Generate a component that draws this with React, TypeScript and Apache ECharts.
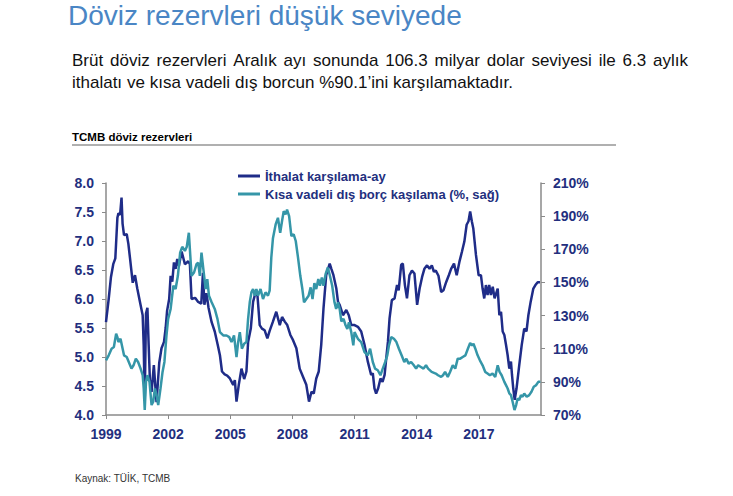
import React, { useEffect, useRef } from "react";
import * as echarts from "echarts";

const titleText = "Döviz rezervleri düşük seviyede";
const subtitleLine1 = "Brüt döviz rezervleri Aralık ayı sonunda 106.3 milyar dolar seviyesi ile 6.3 aylık";
const subtitleLine2 = "ithalatı ve kısa vadeli dış borcun %90.1’ini karşılamaktadır.";
const chartTitle = "TCMB döviz rezervleri";
const sourceText = "Kaynak: TÜİK, TCMB";
const seriesNames = ["İthalat karşılama-ay", "Kısa vadeli dış borç kaşılama (%, sağ)"];

const xTickYears = [1999, 2002, 2005, 2008, 2011, 2014, 2017];
const rightTicks = [70, 90, 110, 130, 150, 170, 190, 210];

// İthalat karşılama (ay) — left axis
const importDates = [
  1999.0, 1999.13, 1999.24, 1999.35, 1999.45, 1999.55, 1999.6, 1999.68, 1999.75, 1999.8, 1999.87,
  2000.0, 2000.08, 2000.16, 2000.29, 2000.4, 2000.51, 2000.64, 2000.77, 2000.82, 2000.87, 2000.93,
  2001.0, 2001.06, 2001.12, 2001.2, 2001.31, 2001.38, 2001.44, 2001.57, 2001.68, 2001.8, 2001.88, 2001.95,
  2002.05, 2002.12, 2002.2, 2002.28, 2002.36, 2002.44, 2002.52, 2002.65, 2002.81, 2002.97,
  2003.05, 2003.13, 2003.3, 2003.45, 2003.6, 2003.68, 2003.75, 2003.85, 2003.95,
  2004.1, 2004.25, 2004.4, 2004.5, 2004.6, 2004.73, 2004.85, 2004.98,
  2005.14, 2005.22, 2005.3, 2005.41, 2005.54, 2005.67, 2005.78, 2005.86, 2005.99,
  2006.1, 2006.21, 2006.31, 2006.42, 2006.53, 2006.66, 2006.79, 2006.9,
  2007.05, 2007.22, 2007.3, 2007.39, 2007.5, 2007.63, 2007.75, 2007.9,
  2008.03, 2008.19, 2008.35, 2008.51, 2008.67, 2008.8, 2008.92,
  2009.03, 2009.15, 2009.27, 2009.39, 2009.5, 2009.63, 2009.8, 2009.88, 2009.98,
  2010.12, 2010.2, 2010.28, 2010.44, 2010.6, 2010.72, 2010.84,
  2011.0, 2011.16, 2011.32, 2011.48, 2011.64, 2011.8, 2011.88, 2011.96,
  2012.04, 2012.14, 2012.25, 2012.35, 2012.45, 2012.53, 2012.61, 2012.69, 2012.8, 2012.93,
  2013.05, 2013.13, 2013.25, 2013.33, 2013.43, 2013.53, 2013.65, 2013.77, 2013.89,
  2014.02, 2014.14, 2014.26, 2014.37, 2014.5, 2014.62, 2014.73, 2014.83, 2014.92,
  2015.05, 2015.18, 2015.29, 2015.42, 2015.55, 2015.66, 2015.8, 2015.93,
  2016.06, 2016.18, 2016.3, 2016.41, 2016.5, 2016.58, 2016.66, 2016.73, 2016.86, 2016.99,
  2017.1, 2017.18, 2017.26, 2017.34, 2017.42, 2017.5, 2017.58, 2017.67, 2017.76, 2017.91, 2017.99,
  2018.07, 2018.15, 2018.23, 2018.31, 2018.39, 2018.47, 2018.55, 2018.6, 2018.66, 2018.73, 2018.82, 2018.95,
  2019.07, 2019.19, 2019.3, 2019.39, 2019.5, 2019.63, 2019.73, 2019.84, 2019.95,
];
const importValues = [
  5.6, 6.0, 6.38, 6.6, 6.7, 7.4, 7.48, 7.45, 7.75, 7.3, 7.1,
  7.12, 6.95, 6.7, 6.28, 6.41, 6.18, 5.95, 5.72, 5.2, 4.25, 5.75,
  5.85, 5.2, 4.6, 4.4, 4.86, 4.5, 4.22, 4.9, 5.15, 5.26, 5.5, 5.8,
  6.0, 6.4, 6.3, 6.63, 6.52, 6.69, 6.57, 6.82, 6.6, 6.65,
  6.6, 6.0, 6.02, 5.95, 5.92, 6.45, 5.9, 6.1, 5.85,
  5.6, 5.44, 5.2, 5.03, 4.75, 4.7, 4.68, 4.63,
  4.52, 4.6, 4.23, 4.52, 4.8, 4.62, 4.75, 5.26, 5.49,
  5.95, 6.1, 6.07, 5.55, 5.49, 5.46, 5.32, 5.45,
  5.6, 5.78, 5.67, 5.55, 5.69, 5.61, 5.55, 5.38,
  5.29, 5.15, 4.8, 4.66, 4.52, 4.23, 4.4,
  4.37, 4.63, 4.75, 5.21, 5.84, 6.41, 6.61, 6.52, 6.41,
  6.18, 5.95, 5.9, 5.72, 5.81, 5.72, 5.55,
  5.55, 5.52, 5.44, 5.21, 4.92, 4.69, 4.72, 4.46,
  4.37, 4.46, 4.63, 4.57, 4.69, 4.98, 5.26, 5.67, 5.98, 6.01,
  6.24, 6.15, 6.59, 6.61, 6.24, 6.01, 6.41, 6.49, 6.44,
  5.9, 6.18, 6.38, 6.52, 6.58, 6.52, 6.58, 6.47, 6.49,
  6.4, 6.12, 6.15, 6.29, 6.41, 6.52, 6.61, 6.41,
  6.64, 6.81, 6.99, 7.28, 7.34, 7.51, 7.34, 7.22, 6.76, 6.41,
  6.41, 6.18, 6.01, 6.24, 6.07, 6.24, 6.07, 6.21, 6.01, 6.18, 5.72,
  5.78, 5.44, 5.38, 5.21, 5.03, 4.8, 4.92, 4.69, 4.46, 4.26, 4.46, 4.86,
  5.21, 5.49, 5.44, 5.72, 5.95, 6.18, 6.24, 6.29, 6.29,
];

// Kısa vadeli dış borç karşılama (%) — right axis
const debtDates = [
  1999.0, 1999.13, 1999.27, 1999.38, 1999.49, 1999.55, 1999.6, 1999.7, 1999.87,
  2000.0, 2000.1, 2000.23, 2000.33, 2000.44, 2000.55, 2000.67, 2000.77, 2000.82, 2000.87, 2000.93,
  2001.0, 2001.1, 2001.2, 2001.28, 2001.36, 2001.44, 2001.52, 2001.63, 2001.73, 2001.82, 2001.92,
  2002.0, 2002.12, 2002.25, 2002.36, 2002.47, 2002.58, 2002.68, 2002.81, 2002.9,
  2003.0, 2003.05, 2003.13, 2003.25, 2003.37, 2003.45, 2003.53, 2003.61, 2003.7, 2003.81, 2003.89, 2003.97,
  2004.1, 2004.25, 2004.38, 2004.5, 2004.66, 2004.82, 2004.95,
  2005.06, 2005.18, 2005.3, 2005.38, 2005.46, 2005.56, 2005.67, 2005.78, 2005.86, 2005.94,
  2006.02, 2006.1, 2006.18, 2006.26, 2006.34, 2006.46, 2006.58, 2006.7, 2006.82, 2006.9, 2006.98,
  2007.06, 2007.19, 2007.3, 2007.41, 2007.51, 2007.58, 2007.67, 2007.74, 2007.84, 2007.95,
  2008.06, 2008.16, 2008.27, 2008.38, 2008.48, 2008.56, 2008.67, 2008.78, 2008.88, 2008.97,
  2009.06, 2009.15, 2009.25, 2009.33, 2009.42, 2009.5, 2009.6, 2009.71, 2009.81, 2009.92,
  2010.03, 2010.11, 2010.2, 2010.28, 2010.36, 2010.47, 2010.57, 2010.65, 2010.73, 2010.84, 2010.94,
  2011.0, 2011.16, 2011.32, 2011.48, 2011.64, 2011.75, 2011.88, 2011.99,
  2012.12, 2012.25, 2012.36, 2012.48, 2012.58, 2012.66, 2012.77, 2012.9,
  2013.02, 2013.14, 2013.27, 2013.4, 2013.5, 2013.61, 2013.73, 2013.86, 2013.97,
  2014.07, 2014.2, 2014.33, 2014.45, 2014.55, 2014.72, 2014.92,
  2015.03, 2015.18, 2015.27, 2015.37, 2015.5, 2015.61, 2015.74, 2015.86, 2015.98,
  2016.1, 2016.22, 2016.35, 2016.47, 2016.58, 2016.67, 2016.74, 2016.83, 2016.94,
  2017.05, 2017.18, 2017.31, 2017.42, 2017.53, 2017.66, 2017.79, 2017.91,
  2018.0, 2018.1, 2018.23, 2018.31, 2018.39, 2018.47, 2018.55, 2018.63, 2018.72, 2018.8, 2018.87, 2018.95,
  2019.03, 2019.11, 2019.19, 2019.31, 2019.43, 2019.54, 2019.65, 2019.76, 2019.87, 2019.97,
];
const debtValues = [
  103, 106, 110, 111, 119, 117, 114, 116, 106,
  105, 102, 98, 100, 104, 102, 98, 94, 86, 73, 90,
  94, 90, 76, 78, 86, 82, 76, 86, 96, 102, 118,
  128, 134, 148, 146, 154, 168, 171.5, 169, 171.5,
  180, 170, 154, 156, 161, 162, 154, 168, 158, 146, 152, 142,
  138, 134, 128, 120, 118, 118, 117,
  114, 118, 105, 114, 120, 110, 113, 114, 128, 138,
  144, 146, 142, 146, 142, 146, 140, 144, 142, 145, 165,
  176.7, 185, 189, 180, 188, 193, 191, 194, 190, 178,
  179, 175, 165, 154, 146, 138, 140, 142, 147, 140,
  149.5, 146, 152, 148, 153, 148, 155, 159, 154, 148,
  138, 134, 138, 134, 126.5, 128, 124, 122, 126, 120, 112,
  120, 116, 114, 108, 106, 110, 102, 98,
  97, 94, 98, 102, 106, 112, 117, 116,
  114, 110, 106, 102, 104, 101, 102, 100, 98,
  100, 99, 98, 100, 98, 96, 95,
  94, 93, 94, 96, 93, 96, 100, 98, 104,
  104, 105, 106, 110, 113.5, 112, 113, 110, 106,
  103, 100, 96, 95, 94, 95, 93, 100,
  96, 94, 90, 88, 86, 83, 82, 78, 73, 76, 80, 79,
  82, 81, 83, 81, 82, 84, 87, 88, 90, 90.1,
];

const NAVY = "#1f2c88";
const TEAL = "#3596a8";
const LABEL = "#232f7e";
const FONT = "'Liberation Sans', Arial, sans-serif";

function measureWords(words: string[], font: string): number[] {
  const canvas = document.createElement("canvas");
  const ctx = canvas.getContext("2d");
  if (!ctx) return words.map((w) => w.length * 8);
  ctx.font = font;
  return words.map((w) => ctx.measureText(w).width);
}

// Place words of a line one text element each, with a given gap between them.
function placeWords(words: string[], widths: number[], left: number, top: number, gap: number, font: string, fill: string) {
  let x = left;
  return words.map((w, i) => {
    const el = { type: "text", left: x, top, style: { text: w, fill, font } };
    x += widths[i] + gap;
    return el;
  });
}

export default function App() {
  const ref = useRef<HTMLDivElement>(null);

  useEffect(() => {
    if (!ref.current) return;
    const chart = echarts.init(ref.current, undefined, { renderer: "svg" });

    const importData = importDates.map((d, i) => [d, importValues[i]]);
    const debtData = debtDates.map((d, i) => [d, debtValues[i]]);

    const subFont = `17px ${FONT}`;
    const words1 = subtitleLine1.split(" ");
    const widths1 = measureWords(words1, subFont);
    const total1 = widths1.reduce((a, b) => a + b, 0);
    const gap1 = (688 - 72 - total1) / (words1.length - 1);
    const words2 = subtitleLine2.split(" ");
    const widths2 = measureWords(words2, subFont);
    const total2 = widths2.reduce((a, b) => a + b, 0);
    const gap2 = Math.max(4, Math.min(gap1, (513 - 72 - total2) / (words2.length - 1)));

    const option: any = {
      animation: false,
      backgroundColor: "#ffffff",
      textStyle: { fontFamily: FONT },
      grid: { left: 106, right: 192, top: 183, bottom: 81, containLabel: false },
      legend: {
        orient: "vertical",
        left: 233,
        top: 164,
        icon: "rect",
        itemWidth: 22,
        itemHeight: 3,
        itemGap: 4,
        data: seriesNames,
        textStyle: { color: LABEL, fontWeight: "bold", fontSize: 13, lineHeight: 14, fontFamily: FONT },
      },
      xAxis: {
        type: "value",
        min: 1999,
        max: 2020,
        axisLine: { show: true, lineStyle: { color: "#8a8a8a", width: 1.5 } },
        axisTick: { show: true, length: 4, lineStyle: { color: "#8a8a8a" }, customValues: xTickYears },
        axisLabel: {
          customValues: xTickYears,
          color: LABEL,
          fontWeight: "bold",
          fontSize: 14,
          fontFamily: FONT,
          margin: 12,
          formatter: (v: number) => String(v),
        },
        splitLine: { show: false },
      },
      yAxis: [
        {
          type: "value",
          min: 4,
          max: 8,
          interval: 0.5,
          position: "left",
          axisLine: { show: true, lineStyle: { color: "#8a8a8a", width: 1.5 } },
          axisTick: { show: true, length: 4, lineStyle: { color: "#8a8a8a" } },
          axisLabel: {
            color: LABEL,
            fontWeight: "bold",
            fontSize: 14,
            fontFamily: FONT,
            margin: 12,
            formatter: (v: number) => v.toFixed(1),
          },
          splitLine: { show: false },
        },
        {
          type: "value",
          min: 70,
          max: 210,
          position: "right",
          axisLine: { show: true, lineStyle: { color: "#8a8a8a", width: 1.5 } },
          axisTick: { show: true, length: 4, lineStyle: { color: "#8a8a8a" }, customValues: rightTicks },
          axisLabel: {
            customValues: rightTicks,
            color: LABEL,
            fontWeight: "bold",
            fontSize: 14,
            fontFamily: FONT,
            margin: 12,
            formatter: (v: number) => v + "%",
          },
          splitLine: { show: false },
        },
      ],
      series: [
        {
          name: seriesNames[0],
          type: "line",
          yAxisIndex: 0,
          data: importData,
          symbol: "none",
          lineStyle: { color: NAVY, width: 2.5 },
          itemStyle: { color: NAVY },
        },
        {
          name: seriesNames[1],
          type: "line",
          yAxisIndex: 1,
          data: debtData,
          symbol: "none",
          lineStyle: { color: TEAL, width: 2.5 },
          itemStyle: { color: TEAL },
        },
      ],
      graphic: [
        {
          type: "text",
          left: 68,
          top: 1,
          style: { text: titleText, fill: "#4a86c5", font: `28px ${FONT}` },
        },
        ...placeWords(words1, widths1, 72, 52, gap1, subFont, "#111111"),
        ...placeWords(words2, widths2, 72, 74, gap2, subFont, "#111111"),
        {
          type: "text",
          left: 72,
          top: 131,
          style: { text: chartTitle, fill: "#000000", font: `bold 11.5px ${FONT}` },
        },
        {
          type: "line",
          shape: { x1: 72, y1: 145, x2: 616, y2: 145 },
          style: { stroke: "#b0b0b0", lineWidth: 2 },
        },
        {
          type: "text",
          left: 75,
          top: 473,
          style: { text: sourceText, fill: "#333333", font: `10px ${FONT}` },
        },
      ],
    };

    chart.setOption(option);
    return () => chart.dispose();
  }, []);

  return (
    <div
      ref={ref}
      style={{ position: "absolute", left: 0, top: 0, width: 733, height: 496, background: "#fff" }}
    />
  );
}
